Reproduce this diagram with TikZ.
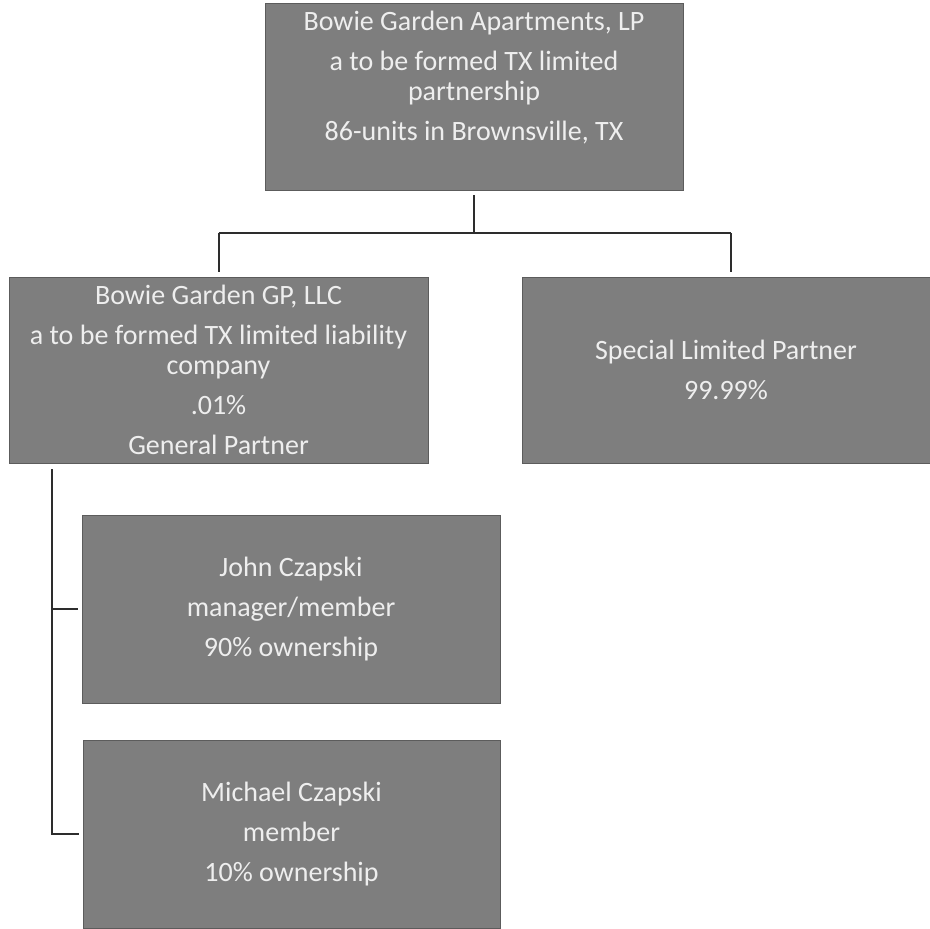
\documentclass[tikz,border=0pt]{standalone}
\usepackage{fontspec}
\setmainfont{Carlito}
\definecolor{boxgray}{RGB}{126,126,126}
\definecolor{boxedge}{RGB}{92,92,92}
\definecolor{boxtextcol}{RGB}{238,238,238}
\definecolor{linkcol}{RGB}{45,45,45}
\begin{document}
\begin{tikzpicture}[x=0.75pt,y=-0.75pt,
  entity/.style 2 args={draw=boxedge,line width=0.6pt,fill=boxgray,
    minimum width=#1*0.75pt,minimum height=#2*0.75pt,inner sep=0pt,
    text=boxtextcol,align=center,
    font=\fontsize{21pt}{22.5pt}\selectfont},
  entitytext/.style={text=boxtextcol,align=center,inner sep=0pt,
    font=\fontsize{21pt}{22.5pt}\selectfont},
  link/.style={draw=linkcol,line width=1.5pt}]
\useasboundingbox (0,0) rectangle (930,928);

% partnership at the top
\node (top) [entity={418}{187}] at (474,96.5) {};
\node (toptext) [entitytext] at (474,78)
  {Bowie Garden Apartments, LP\\[7.5pt]
   a to be formed TX limited\\ partnership\\[7.5pt]
   86-units in Brownsville, TX};

% partners
\node (gp) [entity={419}{186}] at (218.5,370)
  {Bowie Garden GP, LLC\\[7.5pt]
   a to be formed TX limited liability\\ company\\[7.5pt]
   .01\%\\[7.5pt]
   General Partner};
\node (slp) [entity={408}{186}] at (726,370)
  {Special Limited Partner\\[7.5pt]
   99.99\%};

% members of the general partner
\node (john) [entity={418}{188}] at (291,609)
  {John Czapski\\[7.5pt]
   manager/member\\[7.5pt]
   90\% ownership};
\node (mich) [entity={417}{188}] at (291.5,834)
  {Michael Czapski\\[7.5pt]
   member\\[7.5pt]
   10\% ownership};

% ownership tree
\coordinate (hub) at (474,233);
\coordinate (hl) at (218.5,233);
\coordinate (hr) at (731,233);
\draw[link] (top.south) ++(0,5) -- (hub);
\draw[link] (hl) -- (hr);
\draw[link,shorten >=3.75pt] (hl) -- (gp.north);
\draw[link,shorten >=3.75pt] (hr) -- (hr |- slp.north);

% bracket joining the members
\coordinate (bt) at (52,469);
\draw[link] (bt) |- ([xshift=-3pt]mich.west);
\draw[link] (bt |- john.west) -- ([xshift=-3pt]john.west);
\end{tikzpicture}
\end{document}
